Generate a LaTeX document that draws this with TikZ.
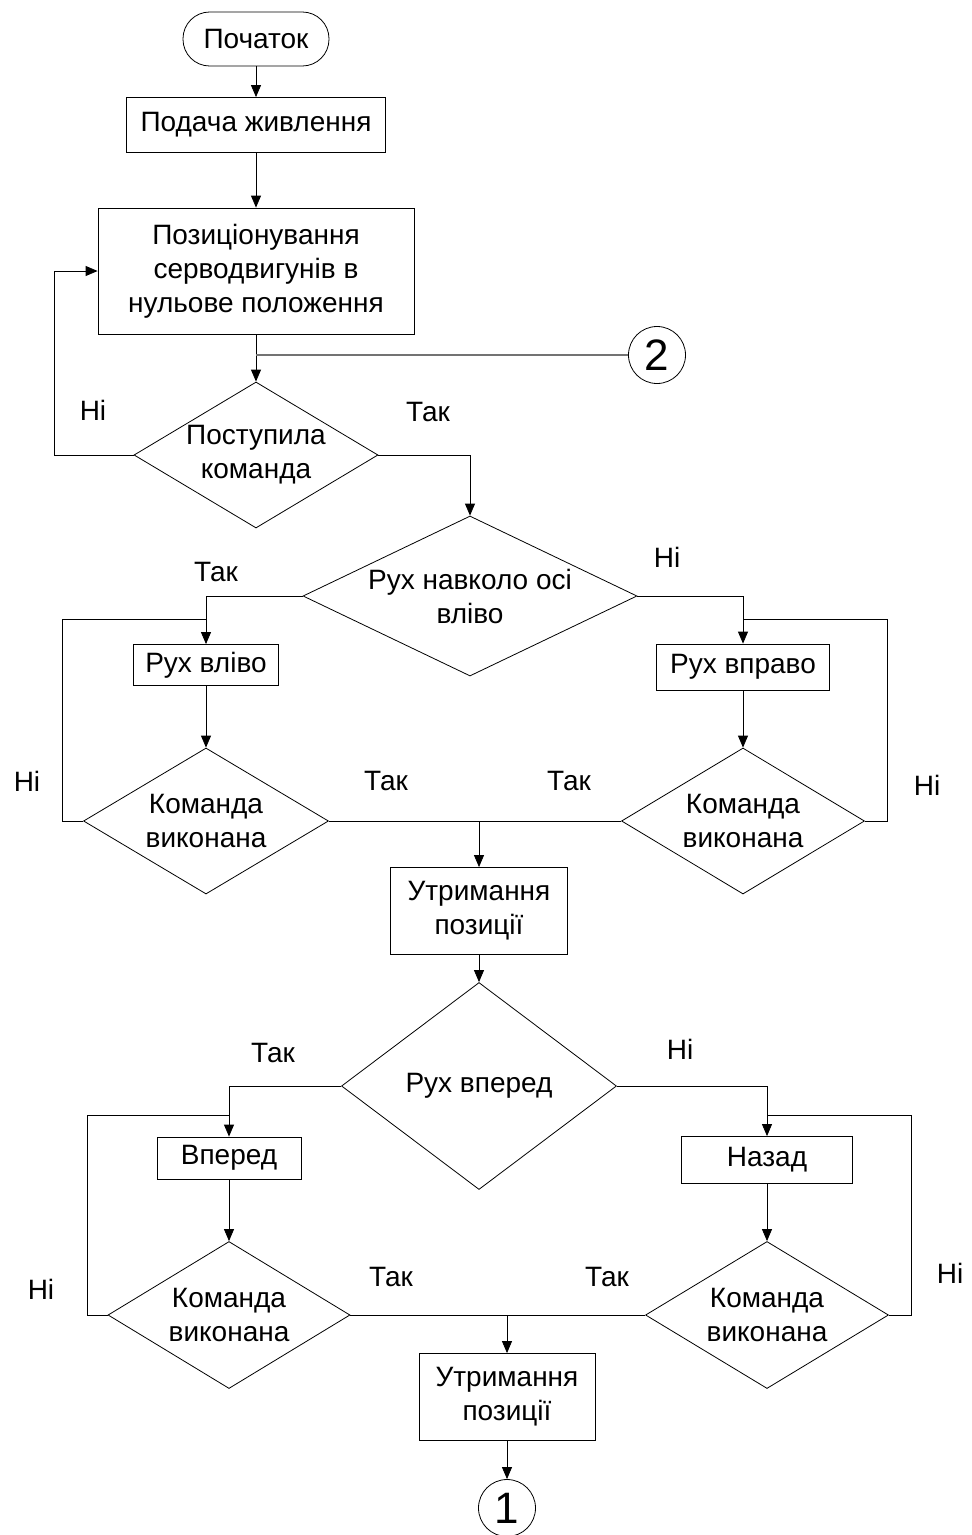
\documentclass[tikz,border=0pt]{standalone}
\usepackage{fontspec}
\setmainfont{Liberation Sans}
\usetikzlibrary{shapes.geometric,arrows.meta,calc}
\begin{document}
\begin{tikzpicture}[x=0.75pt,y=-0.75pt,
  every node/.style={font=\fontsize{21}{25.5}\selectfont, inner sep=0pt},
  proc/.style={draw, line width=0.6pt, rectangle, align=center},
  term/.style={draw, line width=0.6pt, rectangle, rounded corners=20pt, minimum width=109.5pt, minimum height=40.5pt},
  dia/.style={draw, line width=0.6pt, diamond},
  dtext/.style={align=center, font=\fontsize{21}{25.5}\selectfont},
  conn/.style={draw, line width=0.6pt, circle, minimum size=42.75pt, font=\fontsize{33}{33}\selectfont},
  lbl/.style={font=\fontsize{21}{25.5}\selectfont},
  ln/.style={line width=0.6pt},
  arr/.style={line width=0.6pt, -{Triangle[length=9pt,width=7.5pt]}}
]
\useasboundingbox (0,0) rectangle (971,1535);

% nodes
\node[term] (start) at (256,39) {Початок};
\node[proc, minimum width=194.25pt, minimum height=41.25pt] (b1) at (256,125) {Подача живлення};
\node[proc, minimum width=237pt, minimum height=94.5pt] (b2) at (256,271) {Позиціонування\\серводвигунів в\\нульове положення};
\node[conn] (c2) at (657,355) {2};
\node[dia, minimum width=183pt, minimum height=109.5pt, label={[dtext]center:Поступила\\команда}] (d1) at (256,455) {};
\node[dia, minimum width=250.5pt, minimum height=120pt, label={[dtext]center:Рух навколо осі\\вліво}] (d2) at (470,596) {};
\node[proc, minimum width=108.75pt, minimum height=30.75pt] (bl) at (206,665) {Рух вліво};
\node[proc, minimum width=129.75pt, minimum height=34.5pt] (br) at (743,667) {Рух вправо};
\node[dia, minimum width=183.75pt, minimum height=109.5pt, label={[dtext]center:Команда\\виконана}] (dl) at (206,821) {};
\node[dia, minimum width=182.25pt, minimum height=109.5pt, label={[dtext]center:Команда\\виконана}] (dr) at (743,821) {};
\node[proc, minimum width=132.75pt, minimum height=65.25pt] (h1) at (479,911) {Утримання\\позиції};
\node[dia, minimum width=206.25pt, minimum height=155.25pt, label={[dtext]center:Рух вперед}] (d4) at (479,1086) {};
\node[proc, minimum width=108pt, minimum height=31.5pt] (fw) at (229,1158) {Вперед};
\node[proc, minimum width=128.25pt, minimum height=35.25pt] (bk) at (767,1160) {Назад};
\node[dia, minimum width=181.5pt, minimum height=110.25pt, label={[dtext]center:Команда\\виконана}] (el) at (229,1315) {};
\node[dia, minimum width=182.25pt, minimum height=110.25pt, label={[dtext]center:Команда\\виконана}] (er) at (767,1315) {};
\node[proc, minimum width=132pt, minimum height=65.25pt] (h2) at (507,1397) {Утримання\\позиції};
\node[conn] (c1) at (507,1508) {1};

% helper coordinates
\coordinate (nl) at (54,271);
\coordinate (ll) at (62,619);
\coordinate (rl) at (887,619);
\coordinate (j1) at (479,821);
\coordinate (ll2) at (87,1115);
\coordinate (rl2) at (911,1115);
\coordinate (j2) at (507,1315);

% connectors
\draw[arr] (start) -- (b1);
\draw[arr] (b1) -- (b2);
\draw[arr] (b2) -- (d1);
\draw[line width=0.9pt, black!55] (b2.south |- c2.west) -- (c2.west);
\draw[arr] (d1.west) -| (nl) -- (b2.west);
\draw[arr] (d1.east) -| (d2.north);
\draw[arr] (d2.west) -| (bl.north);
\draw[arr] (d2.east) -| (br.north);
\draw[arr] (bl) -- (dl);
\draw[arr] (br) -- (dr);
\draw[ln] (dl.west) -| (ll) -- (ll -| bl.north);
\draw[ln] (dr.east) -| (rl) -- (rl -| br.north);
\draw[ln] (dl.east) -- (dr.west);
\draw[arr] (j1) -- (h1.north);
\draw[arr] (h1) -- (d4);
\draw[arr] (d4.west) -| (fw.north);
\draw[arr] (d4.east) -| (bk.north);
\draw[arr] (fw) -- (el);
\draw[arr] (bk) -- (er);
\draw[ln] (el.west) -| (ll2) -- (ll2 -| fw.north);
\draw[ln] (er.east) -| (rl2) -- (rl2 -| bk.north);
\draw[ln] (el.east) -- (er.west);
\draw[arr] (j2) -- (h2.north);
\draw[arr] (h2) -- (c1);

% labels
\node[lbl] (l1) at (93,410) {Ні};
\node[lbl] (l2) at (428,412) {Так};
\node[lbl] (l3) at (216,572) {Так};
\node[lbl] (l4) at (667,557) {Ні};
\node[lbl] (l5) at (27,781) {Ні};
\node[lbl] (l6) at (386,781) {Так};
\node[lbl] (l7) at (569,781) {Так};
\node[lbl] (l8) at (927,785) {Ні};
\node[lbl] (l9) at (273,1053) {Так};
\node[lbl] (l10) at (680,1049) {Ні};
\node[lbl] (l11) at (41,1289) {Ні};
\node[lbl] (l12) at (391,1277) {Так};
\node[lbl] (l13) at (607,1277) {Так};
\node[lbl] (l14) at (950,1273) {Ні};
\end{tikzpicture}
\end{document}
